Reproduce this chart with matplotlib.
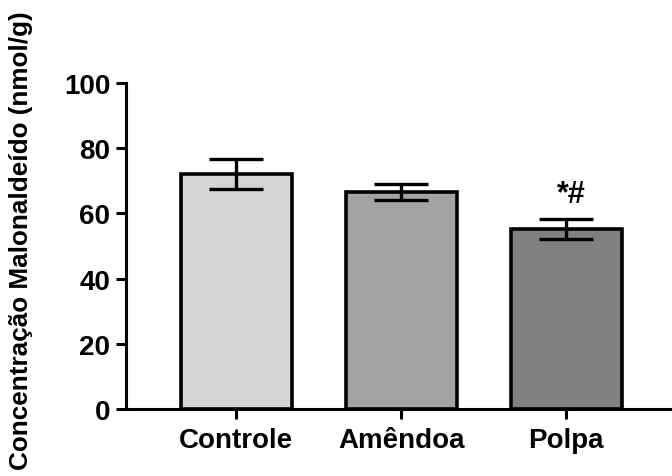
import matplotlib
matplotlib.use("Agg")
import matplotlib.pyplot as plt
import numpy as np

# dados do gráfico
grupos = ["Controle", "Amêndoa", "Polpa"]
medias = [72.0, 66.5, 55.2]
erros = [4.6, 2.4, 3.0]
cores = ["#d4d4d4", "#a3a3a6", "#808080"]
anotacoes = ["", "", "*#"]

plt.rcParams['font.family'] = ['Liberation Sans', 'DejaVu Sans']
plt.rcParams['font.weight'] = 'bold'

fig = plt.figure(figsize=(6.72, 4.77), dpi=100)
ax = fig.add_axes([0.187, 0.1405, 0.813, 0.6835])

x = np.arange(len(grupos))
ax.bar(x, medias, width=0.67, color=cores, edgecolor='black', linewidth=2.6, zorder=2)
ax.errorbar(x, medias, yerr=erros, fmt='none', ecolor='black', elinewidth=2.4,
            capsize=19.5, capthick=2.4, zorder=3)

for xi, m, e, txt in zip(x, medias, erros, anotacoes):
    if txt:
        ax.text(xi + 0.03, m + e + 3.0, txt, ha='center', va='bottom', fontsize=22, fontweight='bold')

ax.set_xlim(-0.67, 2.64)
ax.set_ylim(0, 100)
ax.set_yticks([0, 20, 40, 60, 80, 100])
ax.set_xticks(x)
ax.set_xticklabels(grupos, fontsize=20, fontweight='bold')
ax.tick_params(axis='y', labelsize=20, width=2.2, length=7, pad=4)
ax.tick_params(axis='x', width=2.2, length=7, pad=6)
for t in ax.get_yticklabels():
    t.set_fontweight('bold')

ax.spines['top'].set_visible(False)
ax.spines['right'].set_visible(False)
ax.spines['left'].set_linewidth(2.2)
ax.spines['bottom'].set_linewidth(2.2)
ax.set_ylabel("Concentração Malonaldeído (nmol/g)", fontsize=18.8, fontweight='bold')
ax.yaxis.set_label_coords(-0.17, 0.52)

fig.savefig("out.png", dpi=100)
